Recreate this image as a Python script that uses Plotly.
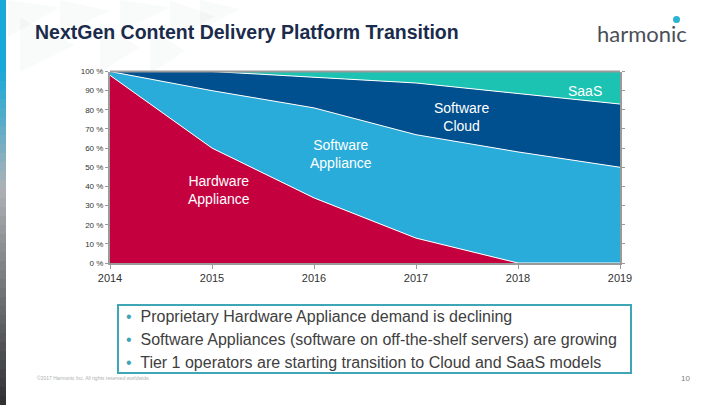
import plotly.graph_objects as go

years = [2014, 2015, 2016, 2017, 2018, 2019]
hardware = [98, 60, 34, 13, 0, 0]
sw_appliance = [2, 30, 47, 54, 58, 50]
sw_cloud = [0, 10, 16, 27, 30.5, 33]
saas = [0, 0, 3, 6, 11.5, 17]
series_names = ["Hardware<br>Appliance", "Software<br>Appliance", "Software<br>Cloud", "SaaS"]
series_colors = ["#C5003E", "#29ACDA", "#004F8E", "#1DC3B2"]
label_pos = [(2015.07, 38), (2016.26, 57), (2017.45, 76), (2018.66, 90)]
y_ticks = [0, 10, 20, 30, 40, 50, 60, 70, 80, 90, 100]
bullets = [
    "Proprietary Hardware Appliance demand is declining",
    "Software Appliances (software on off-the-shelf servers) are growing",
    "Tier 1 operators are starting transition to Cloud and SaaS models",
]
title_text = "NextGen Content Delivery Platform Transition"

W, H = 720, 405
fig = go.Figure()
for vals, name, col in zip([hardware, sw_appliance, sw_cloud, saas], series_names, series_colors):
    fig.add_trace(go.Scatter(
        x=years, y=vals, mode="lines", stackgroup="one", name=name.replace("<br>", " "),
        line=dict(color="white", width=1), fillcolor=col, hoverinfo="x+y+name",
    ))

def px(x):
    return x / W

def py(y):
    return 1 - y / H

x0, x1 = 110, 620
y_top, y_bot = 71.5, 263
fig.update_layout(
    width=W, height=H, margin=dict(l=0, r=0, t=0, b=0),
    paper_bgcolor="white", plot_bgcolor="white", showlegend=False,
    font=dict(family="Liberation Sans, Arial, sans-serif", color="#333333"),
    xaxis=dict(domain=[px(x0), px(x1)], range=[2014, 2019], tickvals=years,
               showgrid=False, zeroline=False, showline=True, linecolor="#9a9a9a", linewidth=2,
               ticks="outside", ticklen=4, tickcolor="#9a9a9a", mirror=False,
               tickfont=dict(size=11, color="#333333"), automargin=False),
    yaxis=dict(domain=[py(y_bot), py(y_top)], range=[0, 100], tickvals=y_ticks,
               ticktext=[f"{v} %" for v in y_ticks],
               showgrid=False, zeroline=False, showline=True, linecolor="#9a9a9a", linewidth=2,
               ticks="outside", ticklen=3, tickcolor="#9a9a9a", mirror="ticks",
               tickfont=dict(size=8, color="#333333"), automargin=False),
)

shapes = []
# left edge gradient bar
n = 45
for i in range(n):
    ya, yb = i * H / n, (i + 1) * H / n
    if ya < 65:
        c = "#18A9D8"
    else:
        tt = (ya - 65) / (H - 65)
        if tt < 0.35:
            a = tt / 0.35
            r = int(24 + (175 - 24) * a); g = int(169 + (178 - 169) * a); b = int(216 + (182 - 216) * a)
        else:
            a = (tt - 0.35) / 0.65
            r = int(175 + (45 - 175) * a); g = int(178 + (45 - 178) * a); b = int(182 + (48 - 182) * a)
        c = f"rgb({r},{g},{b})"
    shapes.append(dict(type="rect", xref="paper", yref="paper", x0=0, x1=px(6), y0=py(yb), y1=py(ya),
                       fillcolor=c, line=dict(width=0), layer="above"))
# decorative triangles top-left
tris = [(8, -10, 60, 25), (60, 0, 110, 22), (120, -5, 170, 20), (170, 5, 215, 28), (20, 30, 75, 60),
        (100, 35, 140, 60), (200, 0, 240, 18), (150, 40, 185, 62)]
for (ax, ay, bx, by) in tris:
    my = (ay + by) / 2
    shapes.append(dict(type="path", xref="paper", yref="paper",
                       path=f"M {px(ax)} {py(max(ay - 12, 0))} L {px(bx)} {py(my)} L {px(ax)} {py(by + 12)} Z",
                       fillcolor="rgba(190,195,200,0.09)", line=dict(width=0), layer="below"))
# top frame line
shapes.append(dict(type="line", xref="paper", yref="paper", x0=px(x0), x1=px(x1), y0=py(y_top), y1=py(y_top),
                   line=dict(color="#9a9a9a", width=2)))
# bullet box
shapes.append(dict(type="rect", xref="paper", yref="paper", x0=px(118), x1=px(631), y0=py(373), y1=py(305),
                   line=dict(color="#3FA6B8", width=2), fillcolor="rgba(0,0,0,0)"))
# logo dot
shapes.append(dict(type="circle", xref="paper", yref="paper", x0=px(673), x1=px(680), y0=py(23), y1=py(16),
                   fillcolor="#2BB3D1", line=dict(width=0)))
fig.update_layout(shapes=shapes)

ann = []
for name, (lx, ly) in zip(series_names, label_pos):
    ann.append(dict(x=lx, y=ly, xref="x", yref="y", text=name, showarrow=False,
                    font=dict(size=14, color="white", family="Liberation Sans, Arial"), align="center"))
ann.append(dict(x=px(33), y=py(32), xref="paper", yref="paper", text=f"<b>{title_text}</b>",
                showarrow=False, xanchor="left", yanchor="middle",
                font=dict(size=19.5, color="#1B2B4B", family="Liberation Sans, Arial")))
ann.append(dict(x=px(642), y=py(33), xref="paper", yref="paper", text="harmonic",
                showarrow=False, xanchor="center", yanchor="middle",
                font=dict(size=22, color="#4A4F57", family="Lato, Open Sans, sans-serif")))
for i, b in enumerate(bullets):
    ann.append(dict(x=px(124), y=py(316 + i * 23), xref="paper", yref="paper",
                    text=f"<span style='color:#3FA6B8'>•</span>  {b}",
                    showarrow=False, xanchor="left", yanchor="middle",
                    font=dict(size=16, color="#404040", family="Liberation Sans, Arial")))
ann.append(dict(x=px(35), y=py(378), xref="paper", yref="paper",
                text="©2017 Harmonic Inc. All rights reserved worldwide.", showarrow=False,
                xanchor="left", yanchor="middle", font=dict(size=5, color="#b0b0b0")))
ann.append(dict(x=px(692), y=py(378), xref="paper", yref="paper", text="10", showarrow=False,
                xanchor="right", yanchor="middle", font=dict(size=8, color="#808080")))
fig.update_layout(annotations=ann)

fig.write_html("out.html", config={"displayModeBar": False},
               post_script="document.body.style.margin='0';document.body.style.padding='0';"
                           "document.body.style.overflow='hidden';")
